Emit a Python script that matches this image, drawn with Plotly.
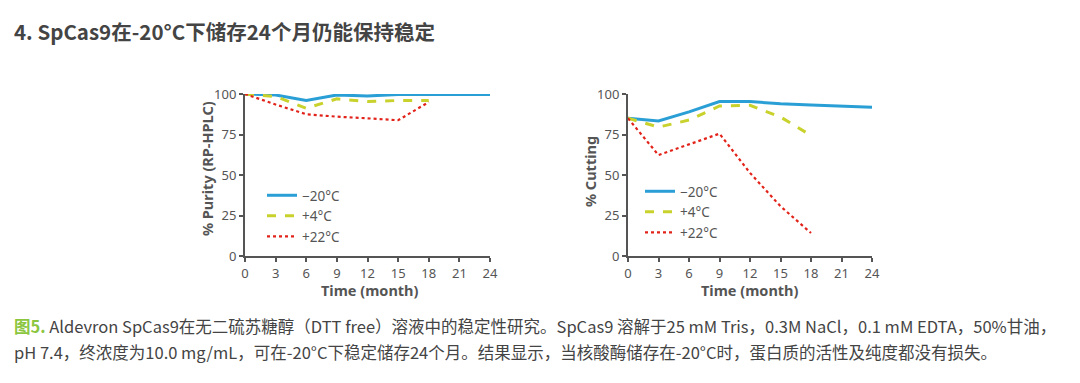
import plotly.graph_objects as go

months = [0, 3, 6, 9, 12, 15, 18, 21, 24]
months18 = [0, 3, 6, 9, 12, 15, 18]

purity_m20 = [100, 99.4, 96, 99.4, 98.8, 99.7, 99.7, 99.7, 99.7]
purity_p4 = [100, 98.4, 91.2, 97, 95.3, 96, 96]
purity_p22 = [100, 93.5, 87.5, 86, 85, 83.8, 95]

cut_m20 = [85, 83.3, 89, 95.3, 95.3, 94, 93.2, 92.6, 91.8]
cut_p4 = [85, 79.6, 83.9, 92.6, 93, 85.8, 74.4]
cut_p22 = [85, 62.3, 68.9, 75.5, 51.3, 30.7, 14.2]

names = ["−20°C", "+4°C", "+22°C"]
colors = ["#2a9fd6", "#c9d22c", "#e2231a"]
dashes = ["solid", "dash", "dot"]
widths = [3, 3, 2.2]

xticks = [0, 3, 6, 9, 12, 15, 18, 21, 24]
yticks = [0, 25, 50, 75, 100]

x_title = "Time (month)"
y_title_left = "% Purity (RP-HPLC)"
y_title_right = "% Cutting"
title = "4. SpCas9在-20°C下储存24个月仍能保持稳定"
cap1_a = "图5."
cap1_b = " Aldevron SpCas9在无二硫苏糖醇（DTT free）溶液中的稳定性研究。SpCas9 溶解于25 mM Tris，0.3M NaCl，0.1 mM EDTA，50%甘油，"
cap2 = "pH 7.4，终浓度为10.0 mg/mL，可在-20°C下稳定储存24个月。结果显示，当核酸酶储存在-20°C时，蛋白质的活性及纯度都没有损失。"

fig = go.Figure()

# page has 8px body margin; figure sized so the page is exactly 1080x383
M = 8
W, H = 1080 - 2 * M, 383 - 2 * M
def dx(px):
    return (px - M) / W
def dy(py):
    return 1 - (py - M) / H

left_series = [(months, purity_m20), (months18, purity_p4), (months18, purity_p22)]
right_series = [(months, cut_m20), (months18, cut_p4), (months18, cut_p22)]

for i, (x, y) in enumerate(left_series):
    fig.add_trace(go.Scatter(x=x, y=y, mode="lines", name=names[i],
                             line=dict(color=colors[i], dash=dashes[i], width=widths[i]),
                             xaxis="x", yaxis="y", legend="legend", cliponaxis=False))
for i, (x, y) in enumerate(right_series):
    fig.add_trace(go.Scatter(x=x, y=y, mode="lines", name=names[i],
                             line=dict(color=colors[i], dash=dashes[i], width=widths[i]),
                             xaxis="x2", yaxis="y2", legend="legend2", cliponaxis=False))

axis_col = "#555555"
tickfont = dict(family="Noto Sans, sans-serif", size=13, color="#555555")
titlefont = dict(family="Noto Sans, sans-serif", size=14.5, color="#555555", weight="bold")

def xa(domain, anchor):
    return dict(domain=domain, anchor=anchor, range=[0, 24], tickvals=xticks, automargin=False,
                showgrid=False, zeroline=False, showline=True, linecolor=axis_col, linewidth=2,
                ticks="outside", ticklen=4, tickwidth=1.5, tickcolor=axis_col, tickfont=tickfont,
                fixedrange=True)

def ya(domain, anchor):
    return dict(domain=domain, anchor=anchor, range=[0, 100], tickvals=yticks, automargin=False,
                showgrid=False, zeroline=False, showline=True, linecolor=axis_col, linewidth=2,
                ticks="outside", ticklen=4, tickwidth=1.5, tickcolor=axis_col, tickfont=tickfont,
                fixedrange=True)

legfont = dict(family="Noto Sans, sans-serif", size=13.5, color="#555555")
ydom = [dy(256), dy(94)]
fig.update_layout(
    width=W, height=H, autosize=False,
    margin=dict(l=0, r=0, t=0, b=0, pad=0, autoexpand=False),
    paper_bgcolor="white", plot_bgcolor="white",
    showlegend=True,
    xaxis=xa([dx(245), dx(490)], "y"),
    yaxis=ya(ydom, "x"),
    xaxis2=xa([dx(628), dx(872)], "y2"),
    yaxis2=ya(ydom, "x2"),
    legend=dict(x=dx(262), y=dy(180), xanchor="left", yanchor="top", bgcolor="rgba(0,0,0,0)",
                font=legfont, itemwidth=30, tracegroupgap=0),
    legend2=dict(x=dx(640), y=dy(176), xanchor="left", yanchor="top", bgcolor="rgba(0,0,0,0)",
                 font=legfont, itemwidth=30, tracegroupgap=0),
)

def label(text, px, py, angle=0, font=titlefont):
    fig.add_annotation(text=text, xref="paper", yref="paper", x=dx(px), y=dy(py),
                       xanchor="center", yanchor="middle", showarrow=False, textangle=angle,
                       font=font)

label(x_title, 370, 290)
label(x_title, 750, 290)
label(y_title_left, 207, 169, -90)
label(y_title_right, 590, 172, -90)

cjk = "Noto Sans CJK SC, sans-serif"
fig.add_annotation(text="<b>" + title + "</b>", xref="paper", yref="paper",
                   x=dx(12), y=dy(31), xanchor="left", yanchor="middle", showarrow=False,
                   font=dict(family=cjk, size=20.5, color="#444444"))
fig.add_annotation(text="<span style='color:#8cc63f'><b>" + cap1_a + "</b></span>" + cap1_b,
                   xref="paper", yref="paper", x=dx(12), y=dy(326), xanchor="left", yanchor="middle",
                   showarrow=False, font=dict(family=cjk, size=16.5, color="#444444"))
fig.add_annotation(text=cap2, xref="paper", yref="paper", x=dx(12), y=dy(352), xanchor="left",
                   yanchor="middle", showarrow=False, font=dict(family=cjk, size=16.5, color="#444444"))

fig.write_html("out.html")
